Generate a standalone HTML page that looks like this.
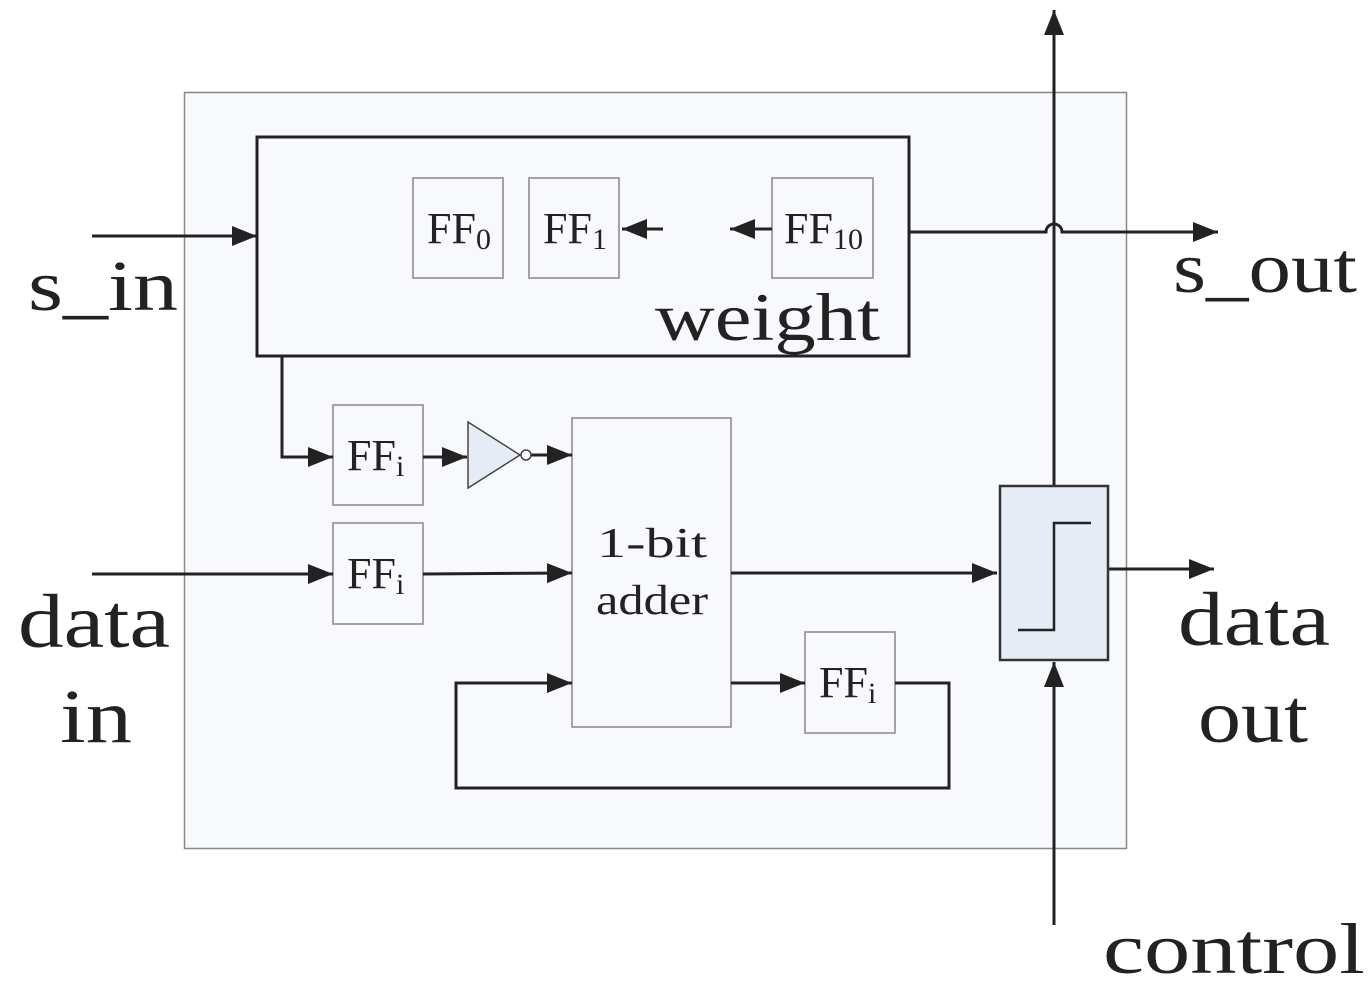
<!DOCTYPE html>
<html><head><meta charset="utf-8"><style>html,body{margin:0;padding:0;background:#fff}svg{display:block}text{font-family:"Liberation Serif","Noto Serif CJK SC",serif;fill:#222}</style></head><body>
<svg width="1368" height="1000" viewBox="0 0 1368 1000" xmlns="http://www.w3.org/2000/svg">
<defs>
<marker id="a" markerWidth="10" markerHeight="8" refX="10" refY="4" orient="auto" markerUnits="userSpaceOnUse" viewBox="0 0 10 8"><path d="M0,0L10,4L0,8z" fill="#222"/></marker>
<marker id="b" viewBox="0 0 10 8" refX="10" refY="4" markerWidth="28" markerHeight="20" orient="auto" markerUnits="userSpaceOnUse"><path d="M0,0L10,4L0,8z" fill="#222"/></marker>
</defs>
<rect x="184.5" y="92.5" width="942" height="756" fill="#f8f9fc" stroke="#888" stroke-width="1.5"/>
<rect x="257" y="137" width="652" height="219" fill="none" stroke="#222" stroke-width="3"/>
<g fill="none" stroke="#888" stroke-width="1.5">
<rect x="413" y="178" width="90" height="100"/>
<rect x="529" y="178" width="90" height="100"/>
<rect x="772" y="178" width="101" height="100"/>
<rect x="333" y="405" width="90" height="100"/>
<rect x="333" y="523" width="90" height="101"/>
<rect x="572" y="418" width="159" height="309"/>
<rect x="805" y="632" width="90" height="101"/>
</g>
<text x="427" y="243" font-size="44">FF<tspan font-size="30" dy="6">0</tspan></text>
<text x="543" y="243" font-size="44">FF<tspan font-size="30" dy="6">1</tspan></text>
<text x="784" y="243" font-size="44">FF<tspan font-size="30" dy="6">10</tspan></text>
<text x="347" y="470" font-size="44">FF<tspan font-size="30" dy="6">i</tspan></text>
<text x="347" y="588" font-size="44">FF<tspan font-size="30" dy="6">i</tspan></text>
<text x="819" y="697" font-size="44">FF<tspan font-size="30" dy="6">i</tspan></text>
<text x="655" y="340" font-size="68" textLength="225" lengthAdjust="spacingAndGlyphs">weight</text>
<text x="597" y="557" font-size="42" textLength="110" lengthAdjust="spacingAndGlyphs">1-bit</text>
<text x="596" y="614" font-size="42" textLength="112" lengthAdjust="spacingAndGlyphs">adder</text>
<g stroke="#222" stroke-width="3" fill="none">
<line x1="663" y1="229" x2="622" y2="229" marker-end="url(#b)"/>
<line x1="772" y1="229" x2="730" y2="229" marker-end="url(#b)"/>
<line x1="92" y1="236" x2="257" y2="236" marker-end="url(#b)"/>
<path d="M909,232H1046a8,8 0 0 1 16,0H1218" marker-end="url(#b)"/>
<line x1="1054" y1="486" x2="1054" y2="10" marker-end="url(#b)"/>
<path d="M282,356V457H333" marker-end="url(#b)"/>
<line x1="423" y1="457" x2="467" y2="457" marker-end="url(#b)"/>
<line x1="531" y1="455" x2="572" y2="455" marker-end="url(#b)"/>
<line x1="92" y1="574" x2="333" y2="574" marker-end="url(#b)"/>
<line x1="423" y1="574" x2="572" y2="573" marker-end="url(#b)"/>
<line x1="731" y1="573" x2="997" y2="573" marker-end="url(#b)"/>
<line x1="1108" y1="569" x2="1214" y2="569" marker-end="url(#b)"/>
<line x1="1054" y1="925" x2="1054" y2="662" marker-end="url(#b)"/>
<line x1="731" y1="683" x2="805" y2="683" marker-end="url(#b)"/>
<path d="M895,683H949V788H456V683H572" marker-end="url(#b)"/>
</g>
<path d="M468,422L520,455L468,488z" fill="#e6ecf6" stroke="#444" stroke-width="1.5"/>
<circle cx="526" cy="455" r="5" fill="#fff" stroke="#444" stroke-width="1.5"/>
<rect x="1000" y="486" width="108" height="174" fill="#e6ecf6" stroke="#333" stroke-width="2.5"/>
<path d="M1018,630H1054V523H1091" fill="none" stroke="#222" stroke-width="2.5"/>
<text x="28" y="310" font-size="72" textLength="150" lengthAdjust="spacingAndGlyphs">s_in</text>
<text x="1173" y="292" font-size="72" textLength="184" lengthAdjust="spacingAndGlyphs">s_out</text>
<text x="18" y="647" font-size="76" textLength="152" lengthAdjust="spacingAndGlyphs">data</text>
<text x="60" y="742" font-size="76" textLength="72" lengthAdjust="spacingAndGlyphs">in</text>
<text x="1178" y="645" font-size="76" textLength="152" lengthAdjust="spacingAndGlyphs">data</text>
<text x="1198" y="742" font-size="76" textLength="110" lengthAdjust="spacingAndGlyphs">out</text>
<text x="1103" y="973" font-size="72" textLength="262" lengthAdjust="spacingAndGlyphs">control</text>
</svg>
</body></html>
